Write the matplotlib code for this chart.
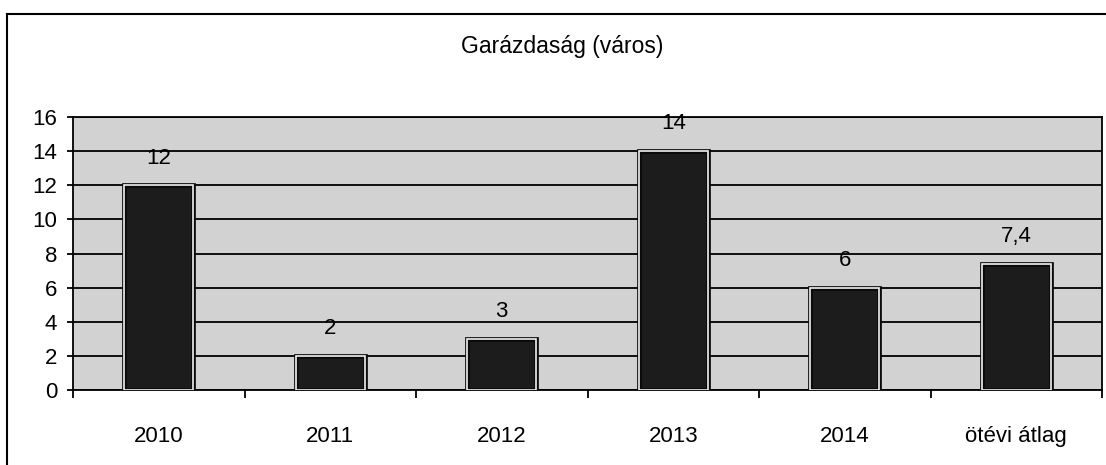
import matplotlib.pyplot as plt
from matplotlib.lines import Line2D

categories = ["2010", "2011", "2012", "2013", "2014", "ötévi átlag"]
values = [12, 2, 3, 14, 6, 7.4]
value_labels = ["12", "2", "3", "14", "6", "7,4"]
y_ticks = [0, 2, 4, 6, 8, 10, 12, 14, 16]

plt.rcParams['font.family'] = ['Liberation Sans', 'DejaVu Sans']

fig = plt.figure(figsize=(11.06, 4.65), dpi=100)
ax = fig.add_axes([73 / 1106, 1 - 390 / 465, (1102 - 73) / 1106, (390 - 117) / 465])
ax.set_facecolor('#d2d2d2')

x = list(range(len(categories)))
# dark outer edge, then a white inner rim
ax.bar(x, values, width=0.4, color='#1c1c1c', edgecolor='#0a0a0a', linewidth=3.4, zorder=3)
ax.bar(x, values, width=0.4, color='none', edgecolor='#f2f2f2', linewidth=1.2, zorder=4)

for xi, v, lab in zip(x, values, value_labels):
  ax.annotate(lab, (xi, v), xytext=(0, 12), textcoords='offset points',
              ha='center', va='bottom', fontsize=16, color='black', zorder=5)

ax.set_xlim(-0.5, len(categories) - 0.5)
ax.set_ylim(0, 16)
ax.set_yticks(y_ticks)
ax.set_yticklabels([str(t) for t in y_ticks], fontsize=16)
ax.yaxis.grid(True, color='black', linewidth=1.3, zorder=1)
ax.set_axisbelow(True)

ax.set_xticks(x)
ax.set_xticklabels(categories, fontsize=16)
ax.set_xticks([i + 0.5 for i in range(-1, len(categories))], minor=True)
ax.tick_params(axis='x', which='major', length=0, pad=26)
ax.tick_params(axis='x', which='minor', length=6, width=1.3, direction='out')
ax.tick_params(axis='y', length=4.5, width=1.3, pad=7)

for side in ['left', 'bottom', 'right', 'top']:
  ax.spines[side].set_color('black')
  ax.spines[side].set_linewidth(1.3)

fig.text(562 / 1106, 1 - 47 / 465, "Garázdaság (város)", ha='center', va='center', fontsize=16.5)

# scanned page frame
fig.add_artist(Line2D([7 / 1106, 7 / 1106], [0, 1 - 14 / 465], color='black', linewidth=1.5))
fig.add_artist(Line2D([7 / 1106, 1], [1 - 14 / 465, 1 - 14 / 465], color='black', linewidth=1.5))

fig.savefig("out.png", dpi=100)
